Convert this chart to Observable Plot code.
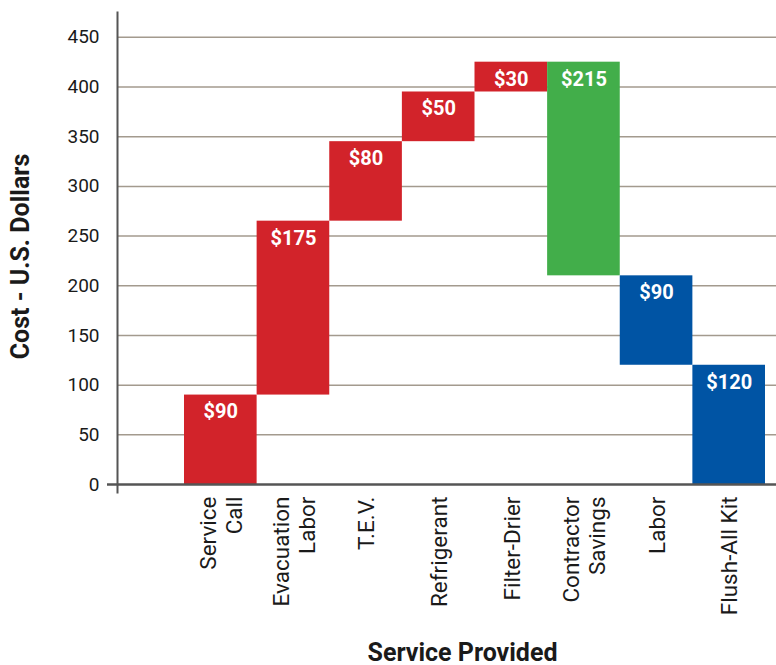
<!DOCTYPE html>
<html>
<head>
<meta charset="utf-8">
<script src="https://cdn.jsdelivr.net/npm/d3@7"></script>
<script src="https://cdn.jsdelivr.net/npm/@observablehq/plot@0.6"></script>
<style>
  html, body { margin: 0; padding: 0; background: white; }
</style>
</head>
<body>
<div id="chart"></div>
<script>
const services = ["Service\nCall", "Evacuation\nLabor", "T.E.V.", "Refrigerant", "Filter-Drier", "Contractor\nSavings", "Labor", "Flush-All Kit"];
const starts = [0, 90, 265, 345, 395, 210, 120, 0];
const ends = [90, 265, 345, 395, 425, 425, 210, 120];
const amounts = [90, 175, 80, 50, 30, 215, 90, 120];
const kinds = ["cost", "cost", "cost", "cost", "cost", "savings", "flush", "flush"];
const kindDomain = ["cost", "savings", "flush"];
const kindColors = ["#d2232a", "#42ae4a", "#0054a4"];
const yTicks = [0, 50, 100, 150, 200, 250, 300, 350, 400, 450];

const data = services.map((s, i) => ({
  name: s, start: starts[i], end: ends[i], amount: amounts[i], kind: kinds[i],
  top: Math.max(starts[i], ends[i])
}));

const chart = Plot.plot({
  width: 776,
  height: 665,
  marginLeft: 117,
  marginRight: 11,
  marginTop: 12,
  marginBottom: 181,
  x: {domain: services, padding: 0, insetLeft: 67, round: false, label: null},
  y: {domain: [0, 475], label: null},
  color: {domain: kindDomain, range: kindColors},
  style: {fontFamily: "Roboto, 'Open Sans', sans-serif", fontSize: "19px", color: "#1a1a1a", background: "white"},
  marks: [
    Plot.ruleY(yTicks.filter(d => d > 0), {stroke: "#a39a8e", strokeWidth: 1.5, insetRight: -11}),
    Plot.barY(data, {x: "name", y1: "start", y2: "end", fill: "kind"}),
    Plot.text(data, {x: "name", y: "top", text: d => "$" + d.amount, dy: 17, fill: "white", fontWeight: "bold", fontSize: 20}),
    Plot.ruleY([0], {stroke: "#555", strokeWidth: 2.5, insetLeft: -10, insetRight: -11}),
    Plot.frame({anchor: "left", stroke: "#555", strokeWidth: 2, insetBottom: -8}),
    Plot.axisY({ticks: yTicks, tickSize: 0, tickPadding: 18, label: null, fontSize: 19}),
    Plot.axisX({ticks: services, tickSize: 0, tickRotate: -90, tickPadding: 12, label: null, lineHeight: 1.15, fontSize: 22.5}),
    Plot.text(["Service Provided"], {frameAnchor: "bottom", textAnchor: "middle", lineAnchor: "middle", dy: 168, dx: 21, fontWeight: "bold", fontSize: 25}),
    Plot.text(["Cost - U.S. Dollars"], {frameAnchor: "left", textAnchor: "middle", lineAnchor: "middle", dx: -97, dy: 8, rotate: -90, fontWeight: "bold", fontSize: 25})
  ]
});
document.getElementById("chart").appendChild(chart);
</script>
</body>
</html>
